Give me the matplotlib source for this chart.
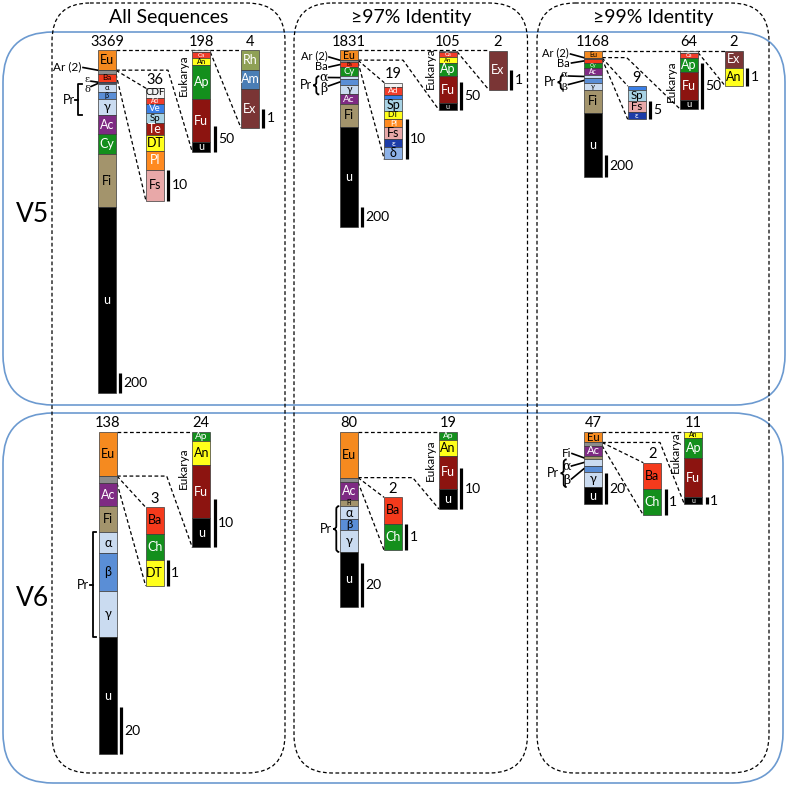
import matplotlib
matplotlib.use('Agg')
import matplotlib.pyplot as plt
from matplotlib.patches import FancyBboxPatch, Rectangle, PathPatch
from matplotlib.path import Path

plt.rcParams['font.family'] = ['Lato', 'DejaVu Sans']

# ---------------- data ----------------
column_titles = ["All Sequences", "≥97% Identity", "≥99% Identity"]
region_labels = ["V5", "V6"]

v5_all_main_labels = ["Eu", "Ar", "Oth", "Ba", "ε", "δ", "α", "β", "γ", "Ac", "Cy", "Fi", "u"]
v5_all_main_counts = [198, 2, 36, 75, 10, 15, 73, 69, 164, 183, 196, 524, 1824]
v5_all_oth_labels = ["CDF", "Ad", "Ve", "Sp", "Te", "DT", "Pl", "Fs"]
v5_all_oth_counts = [3, 2, 3, 3, 4, 5, 6, 10]
v5_all_euk_labels = ["Oe", "Ca", "An", "Ap", "Fu", "u"]
v5_all_euk_counts = [4, 12, 14, 66, 82, 20]
v5_all_min_labels = ["Rh", "Am", "Ex"]
v5_all_min_counts = [1, 1, 2]

v5_97_main_labels = ["Eu", "Ar", "Oth", "Ba", "Cy", "α", "β", "γ", "Ac", "Fi", "u"]
v5_97_main_counts = [105, 2, 19, 50, 95, 30, 60, 100, 100, 235, 1035]
v5_97_oth_labels = ["CDF", "Ad", "Ve", "Sp", "DT", "Pl", "Fs", "ε", "δ"]
v5_97_oth_counts = [1, 2, 1, 3, 2, 2, 3, 2, 3]
v5_97_euk_labels = ["Oe", "Ca", "An", "Ap", "Fu", "u"]
v5_97_euk_counts = [2, 10, 10, 23, 48, 12]
v5_97_min_labels = ["Ex"]
v5_97_min_counts = [2]

v5_99_main_labels = ["Eu", "Ar", "Oth", "Ba", "Cy", "Ac", "α", "β", "γ", "Fi", "u"]
v5_99_main_counts = [64, 2, 9, 40, 50, 60, 28, 46, 62, 216, 591]
v5_99_oth_labels = ["Ve", "Sp", "Fs", "ε"]
v5_99_oth_counts = [1, 3, 3, 2]
v5_99_euk_labels = ["Oe", "Ca", "Ap", "Fu", "u"]
v5_99_euk_counts = [2, 6, 15, 31, 10]
v5_99_min_labels = ["Ex", "An"]
v5_99_min_counts = [1, 1]

v6_main_labels = ["Eu", "Oth", "Ac", "Fi", "α", "β", "γ", "u"]
v6_all_main_counts = [19, 3, 10, 11, 9, 16, 20, 50]
v6_all_oth_labels = ["Ba", "Ch", "DT"]
v6_all_oth_counts = [1, 1, 1]
v6_all_euk_labels = ["Ap", "An", "Fu", "u"]
v6_all_euk_counts = [2, 5, 11, 6]

v6_97_main_counts = [21, 2, 8, 3, 6, 5, 10, 25]
v6_97_oth_labels = ["Ba", "Ch"]
v6_97_oth_counts = [1, 1]
v6_97_euk_labels = ["Ap", "An", "Fu", "u"]
v6_97_euk_counts = [2, 4, 8, 5]

v6_99_main_counts = [7, 2, 7, 2, 4, 4, 10, 11]
v6_99_oth_labels = ["Ba", "Ch"]
v6_99_oth_counts = [1, 1]
v6_99_euk_labels = ["An", "Ap", "Fu", "u"]
v6_99_euk_counts = [1, 3, 6, 1]

# scale-bar values (main, other, eukarya, minor)
v5_scale_values = [[200, 10, 50, 1], [200, 10, 50, 1], [200, 5, 50, 1]]
v6_scale_values = [[20, 1, 10], [20, 1, 10], [20, 1, 1]]

# ---------------- styles ----------------
COLORS = {
    "Eu": "#F58A1F", "Ar": "#555555", "Oth": "#8C8C8C", "Oe": "#E2E2E2",
    "Ba": "#F53A1C", "ε": "#1C3CA8", "δ": "#8DB2E8", "α": "#CADBF0",
    "β": "#5A8ED6", "γ": "#CADBF0", "Ac": "#7E2A83", "Cy": "#138F1C",
    "Fi": "#A3946C", "u": "#000000", "CDF": "#F2F2F2", "Ad": "#F03C2A",
    "Ve": "#3A7FE6", "Sp": "#A8D2E4", "Te": "#9E1A12", "DT": "#FFFF1A",
    "Pl": "#FF8A1F", "Fs": "#E8A8A8", "Ca": "#F03C2A", "An": "#FFFF1A",
    "Ap": "#138F1C", "Fu": "#8C1410", "Rh": "#8FA055", "Am": "#4A7EB5",
    "Ex": "#7A3535", "Ch": "#138F1C",
}
WHITE_TEXT = {"Ac", "Cy", "u", "Ap", "Fu", "Rh", "Am", "Ex", "Ch", "Te",
              "Ve", "ε", "Pl", "Ad", "Ca"}
HIDDEN = {"Ar", "Oth", "Oe"}

W = 18
fig = plt.figure(figsize=(7.88, 7.89), dpi=100)
ax = fig.add_axes([0, 0, 1, 1])
ax.set_xlim(0, 788)
ax.set_ylim(789, 0)
ax.axis('off')

DASH = (0, (3, 2))


def draw_bar(x, top, height, labels, counts, hide=()):
    total = sum(counts)
    k = height / total
    seg = {}
    y = top
    for lab, c in zip(labels, counts):
        h = c * k
        ax.add_patch(Rectangle((x, y), W, h, facecolor=COLORS[lab],
                               edgecolor='#3a3a3a', lw=0.5, zorder=3))
        seg[lab] = (y, y + h)
        if lab not in HIDDEN and lab not in hide and h >= 4.5:
            fs = min(9, 0.75 * h, 22 / len(lab))
            ax.text(x + W / 2, y + h / 2, lab, ha='center', va='center',
                    fontsize=fs, color='white' if lab in WHITE_TEXT else 'black',
                    zorder=4)
        y += h
    ax.text(x + W / 2, top - 1.5, str(total), ha='center', va='bottom',
            fontsize=10.5, zorder=4)
    return dict(seg=seg, k=k, x=x, top=top, bot=top + height)


def scale_bar(b, val):
    xs = b['x'] + W + 4.5
    y0 = b['bot'] - val * b['k']
    ax.plot([xs, xs], [y0, b['bot']], color='black', lw=2.3,
            solid_capstyle='butt', zorder=4)
    ax.text(xs + 3, (y0 + b['bot']) / 2, str(val), ha='left', va='center',
            fontsize=10)


def dline(xs, ys):
    ax.plot(xs, ys, ls=DASH, lw=0.9, color='black', zorder=2)


def sq_bracket(x, y0, y1, label):
    ax.plot([x + 3.5, x, x, x + 3.5], [y0, y0, y1, y1], color='black', lw=1.3)
    ym = (y0 + y1) / 2
    ax.plot([x - 3, x], [ym, ym], color='black', lw=1.3)
    ax.text(x - 3.5, ym, label, ha='right', va='center', fontsize=9)


def curly(x, y0, y1, label, w=6):
    ym = (y0 + y1) / 2
    r = min(3, (y1 - y0) / 4)
    verts = [(x + w, y0), (x + w / 2, y0), (x + w / 2, y0 + r),
             (x + w / 2, ym - r), (x + w / 2, ym), (x, ym),
             (x + w / 2, ym), (x + w / 2, ym + r),
             (x + w / 2, y1 - r), (x + w / 2, y1), (x + w, y1)]
    codes = [Path.MOVETO, Path.CURVE3, Path.CURVE3, Path.LINETO,
             Path.CURVE3, Path.CURVE3, Path.CURVE3, Path.CURVE3,
             Path.LINETO, Path.CURVE3, Path.CURVE3]
    ax.add_patch(PathPatch(Path(verts, codes), fill=False, lw=1.3,
                           edgecolor='black'))
    ax.text(x - 1.5, ym, label, ha='right', va='center', fontsize=9)


def pointer(b, lab, text, tx, ty, lx, ly, ha='center', serif=False, fs=8.5):
    s0, s1 = b['seg'][lab]
    ax.plot([lx, b['x']], [ly, (s0 + s1) / 2], color='black', lw=1.2, zorder=2)
    if serif:
        ax.text(tx, ty, text, ha=ha, va='center', fontsize=fs,
                family=['DejaVu Serif'])
    else:
        ax.text(tx, ty, text, ha=ha, va='center', fontsize=fs)


def connect(main, euk, elbow, oth=None, minor=None):
    mr = main['x'] + W
    e0, e1 = main['seg']['Eu']
    far = minor['x'] if minor else euk['x']
    dline([mr, far], [e0, e0])
    dline([mr, elbow, euk['x']], [e1, e1, euk['bot']])
    if oth is not None:
        o0, o1 = main['seg']['Oth']
        dline([mr, oth['x']], [o0, oth['top']])
        dline([mr, oth['x']], [o1, oth['bot']])
    if minor is not None:
        m0, m1 = euk['seg']['Oe']
        dline([euk['x'] + W, minor['x']], [m1, minor['bot']])


def eukarya(euk, y):
    ax.text(euk['x'] - 8.5, y, "Eukarya", rotation=90, ha='center',
            va='center', fontsize=8.5)


# ---------------- frames ----------------
for (x0, y0, w, h) in [(3, 32, 782, 373), (3, 413, 780, 370)]:
    ax.add_patch(FancyBboxPatch((x0, y0), w, h,
                                boxstyle="round,pad=0,rounding_size=50",
                                fill=False, edgecolor='#6C9AD0', lw=1.2, zorder=1))
for (x0, w), title in zip([(52, 233), (294, 233.5), (537, 232)], column_titles):
    ax.add_patch(FancyBboxPatch((x0, 3), w, 770,
                                boxstyle="round,pad=0,rounding_size=38",
                                fill=False, edgecolor='black', lw=0.9,
                                ls=DASH, zorder=1))
    ax.text(x0 + w / 2, 17, title, ha='center', va='center', fontsize=14)

ax.text(32, 214, region_labels[0], ha='center', va='center', fontsize=19)
ax.text(32, 598, region_labels[1], ha='center', va='center', fontsize=19)

# ---------------- V5 ----------------
# All sequences
m = draw_bar(98, 50, 343, v5_all_main_labels, v5_all_main_counts, hide={"ε", "δ"})
o = draw_bar(146, 88.3, 112.7, v5_all_oth_labels, v5_all_oth_counts)
e = draw_bar(192.3, 50, 102, v5_all_euk_labels, v5_all_euk_counts)
n = draw_bar(241, 50, 78, v5_all_min_labels, v5_all_min_counts)
connect(m, e, 168, o, n)
for b, v in zip([m, o, e, n], v5_scale_values[0]):
    scale_bar(b, v)
eukarya(e, 75)
pointer(m, "Ar", "Ar (2)", 81.5, 66.5, 83, 67.5, ha='right')
pointer(m, "ε", "ε", 87.5, 79.8, 91, 81.2, serif=True, fs=7)
pointer(m, "δ", "δ", 87.5, 89.8, 91, 86.5, serif=True, fs=7)
sq_bracket(78.3, m['seg']['α'][0], m['seg']['γ'][1], "Pr")

# >=97%
m = draw_bar(340, 50, 176.7, v5_97_main_labels, v5_97_main_counts, hide={"α", "β"})
o = draw_bar(384.3, 82.7, 76.7, v5_97_oth_labels, v5_97_oth_counts)
e = draw_bar(439, 50.5, 59.5, v5_97_euk_labels, v5_97_euk_counts)
n = draw_bar(489, 50.5, 39.5, v5_97_min_labels, v5_97_min_counts)
connect(m, e, 403, o, n)
for b, v in zip([m, o, e, n], v5_scale_values[1]):
    scale_bar(b, v)
eukarya(e, 68)
pointer(m, "Ar", "Ar (2)", 327.5, 56, 329, 57, ha='right', fs=8)
pointer(m, "Ba", "Ba", 327.5, 66.5, 329, 67, ha='right', fs=8)
pointer(m, "α", "α", 324, 77, 328.5, 77.5, serif=True, fs=9)
pointer(m, "β", "β", 324, 88.5, 328.5, 86, serif=True, fs=9)
curly(313.3, m['seg']['α'][0], m['seg']['γ'][1], "Pr")

# >=99%
m = draw_bar(584, 50.7, 126, v5_99_main_labels, v5_99_main_counts, hide={"α", "β"})
o = draw_bar(627.7, 86, 33.3, v5_99_oth_labels, v5_99_oth_counts)
e = draw_bar(680, 50.7, 58.3, v5_99_euk_labels, v5_99_euk_counts)
n = draw_bar(725, 50.7, 35, v5_99_min_labels, v5_99_min_counts)
connect(m, e, 626.7, o, n)
for b, v in zip([m, o, e, n], v5_scale_values[2]):
    scale_bar(b, v)
eukarya(e, 81)
pointer(m, "Ar", "Ar (2)", 569, 52.8, 570.5, 54, ha='right', fs=8)
pointer(m, "Ba", "Ba", 570, 63.5, 571.5, 63, ha='right', fs=8)
pointer(m, "α", "α", 564, 74.5, 568.5, 76, serif=True, fs=7.5)
pointer(m, "β", "β", 564, 87, 568.5, 84.5, serif=True, fs=7.5)
curly(557.7, m['seg']['α'][0], m['seg']['γ'][1], "Pr")

# ---------------- V6 ----------------
m = draw_bar(99, 431.7, 322.3, v6_main_labels, v6_all_main_counts)
o = draw_bar(145.7, 507.3, 78.7, v6_all_oth_labels, v6_all_oth_counts)
e = draw_bar(192.3, 431.7, 115.7, v6_all_euk_labels, v6_all_euk_counts)
connect(m, e, 166.7, o)
for b, v in zip([m, o, e], v6_scale_values[0]):
    scale_bar(b, v)
eukarya(e, 468)
sq_bracket(92.7, m['seg']['α'][0], m['seg']['γ'][1], "Pr")

m = draw_bar(340, 431.7, 175, v6_main_labels, v6_97_main_counts)
o = draw_bar(384, 497.3, 52.7, v6_97_oth_labels, v6_97_oth_counts)
e = draw_bar(439, 431.7, 77.3, v6_97_euk_labels, v6_97_euk_counts)
connect(m, e, 412.7, o)
for b, v in zip([m, o, e], v6_scale_values[1]):
    scale_bar(b, v)
eukarya(e, 460)
curly(333.3, m['seg']['α'][0], m['seg']['γ'][1], "Pr")

m = draw_bar(584, 431.7, 72.3, v6_main_labels, v6_99_main_counts, hide={"Fi", "α", "β"})
o = draw_bar(643.3, 462.7, 52.3, v6_99_oth_labels, v6_99_oth_counts)
e = draw_bar(684.3, 431.7, 72.3, v6_99_euk_labels, v6_99_euk_counts)
connect(m, e, 660, o)
for b, v in zip([m, o, e], v6_scale_values[2]):
    scale_bar(b, v)
eukarya(e, 452)
pointer(m, "Fi", "Fi", 567, 453, 572, 453.5)
pointer(m, "α", "α", 567, 466, 571.5, 466, serif=True, fs=9)
pointer(m, "β", "β", 567, 480, 571.5, 479, serif=True, fs=9)
curly(560.7, m['seg']['α'][0], m['seg']['γ'][1], "Pr")

fig.savefig("out.png", dpi=100)
